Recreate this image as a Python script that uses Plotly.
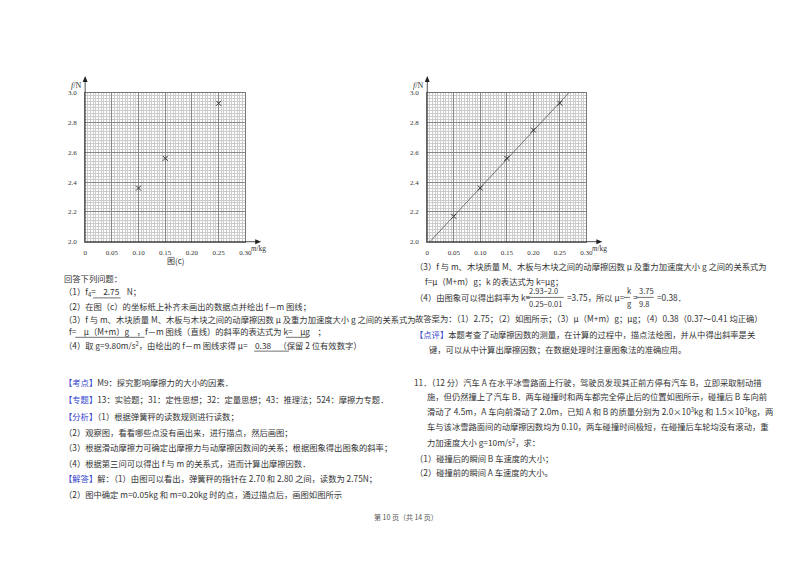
import numpy as np
import plotly.graph_objects as go

W, H = 800, 565
mass_left = [0.10, 0.15, 0.25]
f_left = [2.36, 2.56, 2.93]
mass_right = [0.05, 0.10, 0.15, 0.20, 0.25]
f_right = [2.17, 2.36, 2.56, 2.75, 2.93]
xticks = [0, 0.05, 0.10, 0.15, 0.20, 0.25, 0.30]
xticklabels = ["0", "0.05", "0.10", "0.15", "0.20", "0.25", "0.30"]
yticks = [2.0, 2.2, 2.4, 2.6, 2.8, 3.0]
yticklabels = ["2.0", "2.2", "2.4", "2.6", "2.8", "3.0"]

fig = go.Figure()
mk = dict(symbol="x-thin", size=5, line=dict(width=1, color="#333"))
fig.add_trace(go.Scatter(x=mass_left, y=f_left, mode="markers", marker=mk, xaxis="x", yaxis="y", showlegend=False))
slope, inter = np.polyfit(mass_right, f_right, 1)
xl = np.array([(2.0 - inter) / slope, (3.0 - inter) / slope])
fig.add_trace(go.Scatter(x=xl, y=slope * xl + inter, mode="lines", line=dict(color="#555", width=0.8),
                         xaxis="x2", yaxis="y2", showlegend=False))
fig.add_trace(go.Scatter(x=mass_right, y=f_right, mode="markers", marker=mk, xaxis="x2", yaxis="y2", showlegend=False))

def px(x): return x / W
def py(y): return 1 - y / H

tickf = dict(family="Liberation Serif", size=7, color="#333")
ax_common = dict(range=[0, 0.30], tickvals=xticks, ticktext=xticklabels, showgrid=True, gridcolor="#888",
                 gridwidth=0.6, minor=dict(dtick=0.005, showgrid=True, gridcolor="#ccc", gridwidth=0.4),
                 showline=True, linecolor="#777", mirror=True, zeroline=False, ticks="", tickfont=tickf, ticklabelstandoff=4)
ay_common = dict(range=[2.0, 3.0], tickvals=yticks, ticktext=yticklabels, showgrid=True, gridcolor="#888",
                 gridwidth=0.6, minor=dict(dtick=0.02, showgrid=True, gridcolor="#ccc", gridwidth=0.4),
                 showline=True, linecolor="#777", mirror=True, zeroline=False, ticks="", tickfont=tickf, ticklabelstandoff=6)
yd = [py(233), py(82)]
fig.update_layout(
    width=W, height=H, margin=dict(l=0, r=0, t=0, b=0), plot_bgcolor="white", paper_bgcolor="white",
    xaxis=dict(domain=[px(76), px(238)], anchor="y", **ax_common),
    yaxis=dict(domain=yd, anchor="x", **ay_common),
    xaxis2=dict(domain=[px(422), px(583)], anchor="y2", **ax_common),
    yaxis2=dict(domain=yd, anchor="x2", **ay_common),
)

ann = []
shapes = []
for x0, x1 in ((76, 238), (422, 583)):
    shapes.append(dict(type="line", xref="paper", yref="paper", x0=px(x0), x1=px(x1 + 12), y0=py(233), y1=py(233),
                       line=dict(color="#222", width=0.8)))
    shapes.append(dict(type="path", xref="paper", yref="paper",
                       path=f"M {px(x1+16)} {py(233)} L {px(x1+10)} {py(230.5)} L {px(x1+10)} {py(235.5)} Z",
                       fillcolor="#222", line=dict(width=0)))
    shapes.append(dict(type="line", xref="paper", yref="paper", x0=px(x0), x1=px(x0), y0=py(233), y1=py(70),
                       line=dict(color="#222", width=0.8)))
    shapes.append(dict(type="path", xref="paper", yref="paper",
                       path=f"M {px(x0)} {py(65)} L {px(x0-2.5)} {py(71)} L {px(x0+2.5)} {py(71)} Z",
                       fillcolor="#222", line=dict(width=0)))
    ann.append(dict(x=px(x0 - 2), y=py(68), xref="paper", yref="paper", text="<i>f</i>/N", showarrow=False,
                    xanchor="right", font=dict(family="Liberation Serif", size=8, color="#333")))
    ann.append(dict(x=px(x1 + 4), y=py(240), xref="paper", yref="paper", text="<i>m</i>/kg", showarrow=False,
                    xanchor="left", font=dict(family="Liberation Serif", size=7.5, color="#333")))
ann.append(dict(x=px(157), y=py(252), xref="paper", yref="paper", text="图(c)", showarrow=False,
                font=dict(family="Noto Sans CJK SC", size=8, color="#333")))

B = "#3344cc"
FS = 8.3
def T(x, y, s, size=FS):
    ann.append(dict(x=px(x), y=py(y), xref="paper", yref="paper", text=s, showarrow=False, xanchor="left",
                    yanchor="middle", font=dict(family="Noto Sans CJK SC", size=size, color="#333")))
def bl(s): return f"<span style='color:{B}'>{s}</span>"
def ul(x0, x1, y):
    shapes.append(dict(type="line", xref="paper", yref="paper", x0=px(x0), x1=px(x1), y0=py(y), y1=py(y),
                       line=dict(color="#333", width=0.7)))

T(53, 270, "回答下列问题：")
T(53, 284, "（1）f<sub>4</sub>=    2.75    N；")
T(53, 298, "（2）在图（c）的坐标纸上补齐未画出的数据点并绘出 f－m 图线；")
T(53, 311, "（3）f 与 m、木块质量 M、木板与木块之间的动摩擦因数 μ 及重力加速度大小 g 之间的关系式为")
T(58, 324, "f=    μ（M+m）g    ，f－m 图线（直线）的斜率的表达式为 k=    μg    ；")
T(53, 338, "（4）取 g=9.80m/s<sup>2</sup>，由绘出的 f－m 图线求得 μ=    0.38    （保留 2 位有效数字）")
ul(84, 112, 290); ul(66, 136, 330); ul(279, 302, 330); ul(247, 282, 344)
T(53, 375, bl("【考点】") + "M9：探究影响摩擦力的大小的因素．")
T(53, 393, bl("【专题】") + "13：实验题；31：定性思想；32：定量思想；43：推理法；524：摩擦力专题．")
T(53, 410, bl("【分析】") + "（1）根据弹簧秤的读数规则进行读数；")
T(53, 426, "（2）观察图，看看哪些点没有画出来，进行描点，然后画图；")
T(53, 441, "（3）根据滑动摩擦力可确定出摩擦力与动摩擦因数间的关系；根据图象得出图象的斜率；")
T(53, 457, "（4）根据第三问可以得出 f 与 m 的关系式，进而计算出摩擦因数．")
T(53, 473, bl("【解答】") + "解：（1）由图可以看出，弹簧秤的指针在 2.70 和 2.80 之间，读数为 2.75N；")
T(53, 489, "（2）图中确定 m=0.05kg 和 m=0.20kg 时的点，通过描点后，画图如图所示")

T(408, 258, "（3）f 与 m、木块质量 M、木板与木块之间的动摩擦因数 μ 及重力加速度大小 g 之间的关系式为")
T(418, 273, "f=μ（M+m）g；k 的表达式为 k=μg；")
T(408, 289, "（4）由图象可以得出斜率为 k=")
T(523, 283, "2.93−2.0", size=7.5)
T(523, 296, "0.25−0.01", size=7.5)
T(561, 289, "=3.75，所以 μ=")
T(622, 283, "k", size=7.5)
T(622, 296, "g", size=7.5)
T(628, 289, "=")
T(634, 283, "3.75", size=7.5)
T(634, 296, "9.8", size=7.5)
T(652, 289, "=0.38．")
ul(522, 560, 289.5); ul(621, 627, 289.5); ul(633, 651, 289.5)
T(408, 310, "故答案为：（1）2.75；（2）如图所示；（3）μ（M+m）g；μg；（4）0.38（0.37～0.41 均正确）")
T(408, 327, bl("【点评】") + "本题考查了动摩擦因数的测量，在计算的过程中，描点法绘图，并从中得出斜率是关")
T(422, 342, "键，可以从中计算出摩擦因数；在数据处理时注意图象法的准确应用。")
T(407, 375, "11．（12 分）汽车 A 在水平冰雪路面上行驶，驾驶员发现其正前方停有汽车 B，立即采取制动措")
T(420, 390, "施，但仍然撞上了汽车 B．两车碰撞时和两车都完全停止后的位置如图所示，碰撞后 B 车向前")
T(420, 405, "滑动了 4.5m，A 车向前滑动了 2.0m，已知 A 和 B 的质量分别为 2.0×10<sup>3</sup>kg 和 1.5×10<sup>3</sup>kg，两")
T(420, 420, "车与该冰雪路面间的动摩擦因数均为 0.10，两车碰撞时间极短，在碰撞后车轮均没有滚动，重")
T(420, 436, "力加速度大小 g=10m/s<sup>2</sup>，求：")
T(408, 452, "（1）碰撞后的瞬间 B 车速度的大小；")
T(408, 467, "（2）碰撞前的瞬间 A 车速度的大小。")
ann.append(dict(x=0.5, y=py(519), xref="paper", yref="paper", text="第 10 页（共 14 页）", showarrow=False,
                font=dict(family="Noto Sans CJK SC", size=7, color="#555")))
fig.update_layout(annotations=ann, shapes=shapes)
fig.write_html("out.html")
